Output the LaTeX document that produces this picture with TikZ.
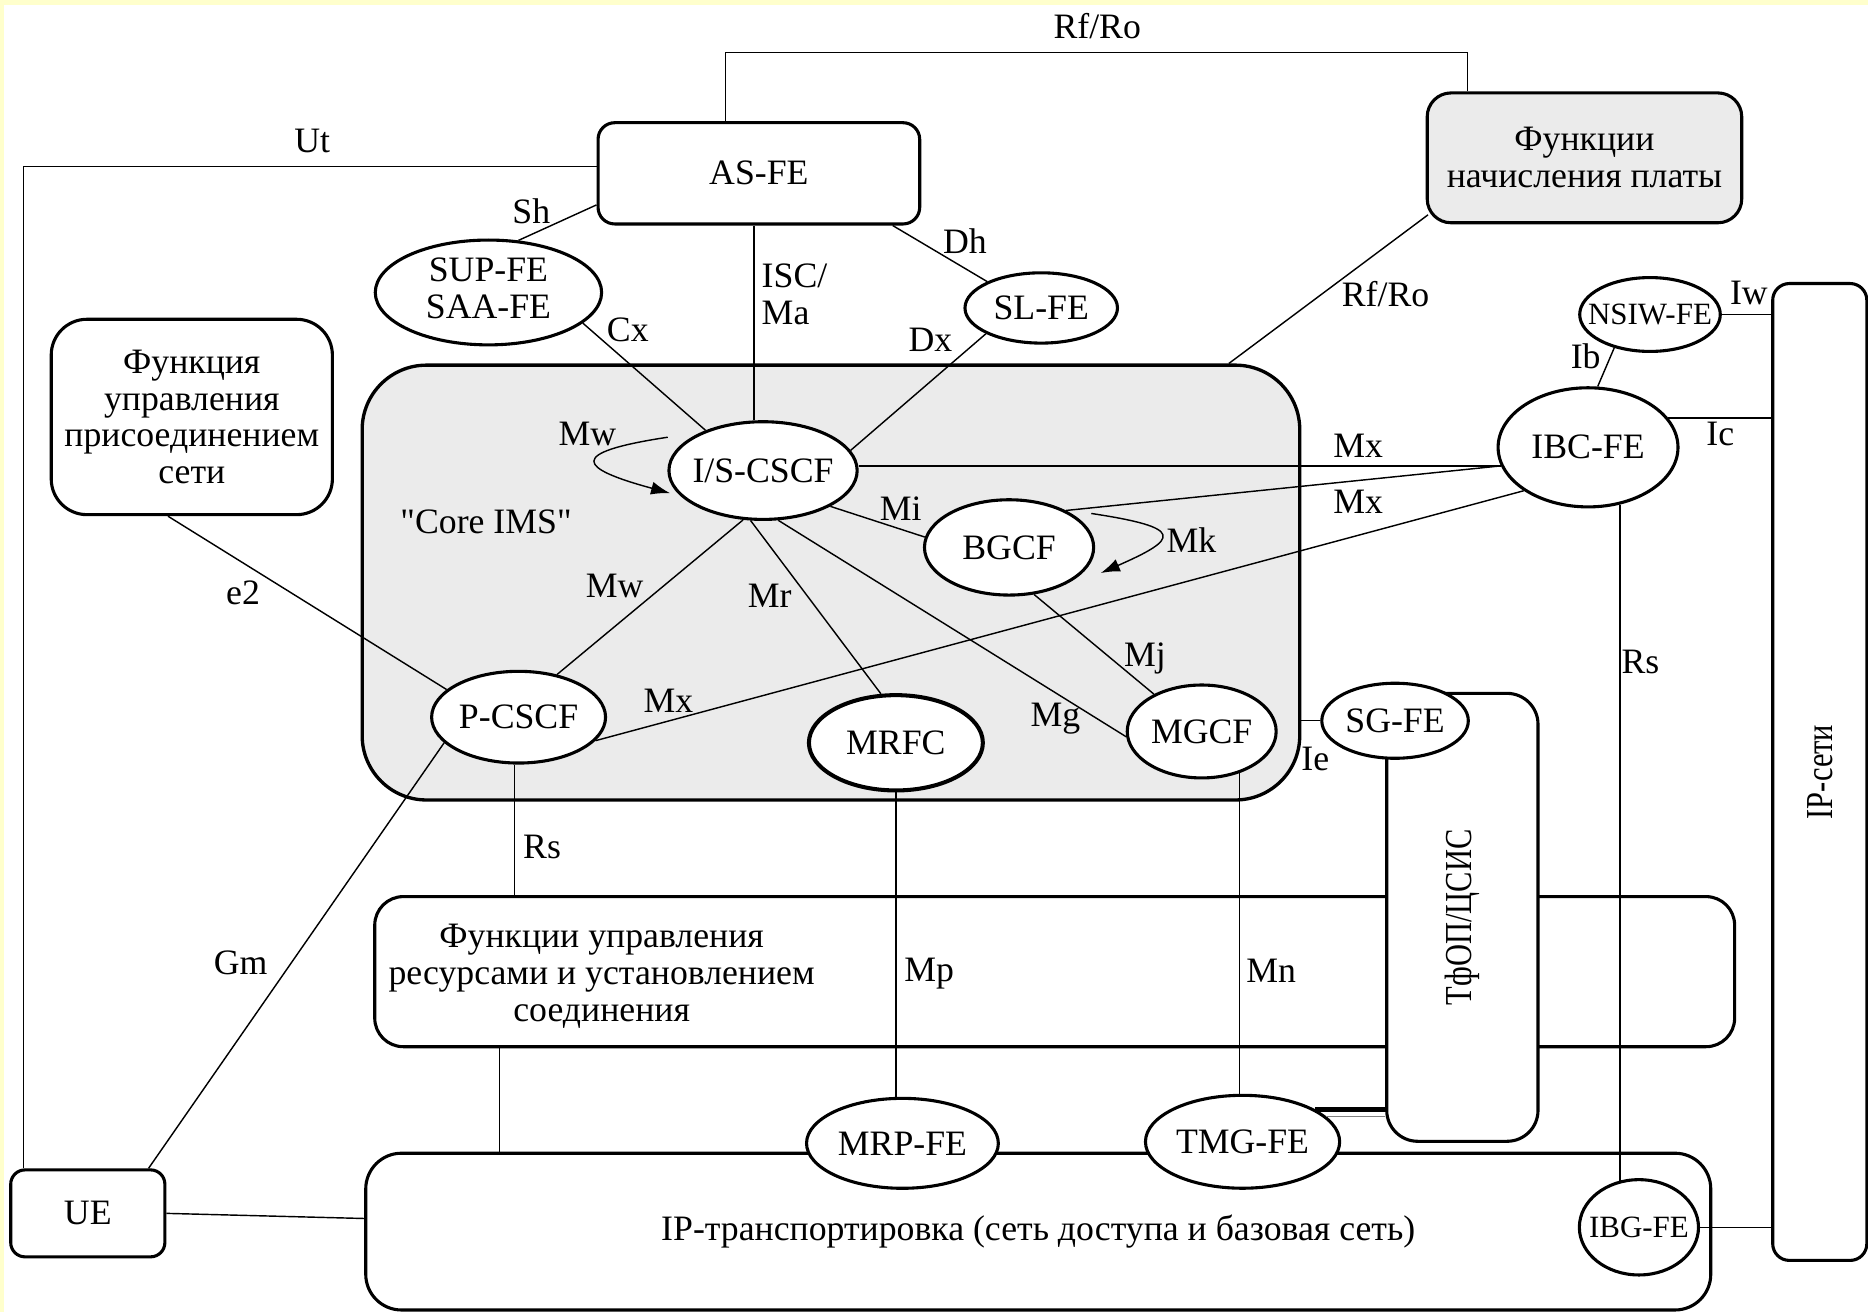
\documentclass[tikz,border=0pt]{standalone}
\usepackage{fontspec}
\usepackage{graphicx}
\setmainfont{Liberation Serif}[Ligatures=TeXOff]
\usetikzlibrary{shapes.geometric,arrows.meta}
\definecolor{paleyellow}{HTML}{FFFFCC}
\definecolor{coregray}{HTML}{EBEBEB}
\tikzset{
  box/.style={draw, rounded corners=7pt, line width=1.3pt, fill=white, inner sep=2pt, align=center},
  ell/.style={draw, ellipse, line width=1.3pt, fill=white, inner sep=0pt},
  link/.style={line width=0.6pt},
  lbl/.style={inner sep=1pt},
  selfloop/.style={line width=0.6pt, -{Latex[length=8pt,width=5.5pt]}}
}
\begin{document}
\begin{tikzpicture}[x=0.5pt,y=-0.5pt,font=\fontsize{15}{15.5}\selectfont]
\useasboundingbox (0,0) rectangle (1568,1101);
\fill[paleyellow] (0,0) rectangle (1568,1101);
\fill[white] (3,4.5) rectangle (1568,1101);

\node[box, fill=coregray, rounded corners=27pt, line width=1.4pt, minimum width=393.5pt, minimum height=182.5pt] (ims) at (697.5,489) {};
\node[box, minimum width=135pt, minimum height=42.5pt] (asfe) at (637,145.5) {AS-FE};
\node[box, fill=coregray, rounded corners=10pt, minimum width=132pt, minimum height=54.5pt] (charge) at (1330,132.5) {Функции\\начисления платы};
\node[box, rounded corners=15pt, minimum width=118pt, minimum height=82pt] (conn) at (161,350) {Функция\\управления\\присоединением\\сети};
\node[box, rounded corners=12pt, minimum width=570.75pt, minimum height=63pt] (res) at (885.3,815.6) {};
\node[align=center] (restext) at (505,819.5) {Функции управления\\ресурсами и установлением\\соединения};
\node[box, rounded corners=13pt, minimum width=63.5pt, minimum height=188pt] (pstn) at (1227.5,770) {\rotatebox{90}{\fontsize{16}{16}\selectfont\scalebox{0.8}[1]{ТфОП/ЦСИС}}};
\node[box, minimum width=39.5pt, minimum height=410pt] (ipnet) at (1527.5,648) {\rotatebox{90}{\fontsize{16}{16}\selectfont\scalebox{0.8}[1]{IP-сети}}};
\node[box, rounded corners=15pt, minimum width=564.5pt, minimum height=65.8pt] (iptr) at (871.5,1033.8) {IP-транспортировка (сеть доступа и базовая сеть)};
\node[box, rounded corners=6pt, minimum width=64.7pt, minimum height=36.5pt] (ue) at (73.7,1018.5) {UE};

\node[ell, minimum width=95pt, minimum height=44pt] (sup) at (410,245.5) {\makebox[0pt]{\begin{tabular}{@{}c@{}}SUP-FE\\SAA-FE\end{tabular}}};
\node[ell, minimum width=64pt, minimum height=29.5pt] (slfe) at (874,258.5) {\makebox[0pt]{SL-FE}};
\node[ell, minimum width=59pt, minimum height=31pt] (nsiw) at (1385,264) {\makebox[0pt]{\fontsize{13}{14}\selectfont NSIW-FE}};
\node[ell, minimum width=79pt, minimum height=41pt] (iscscf) at (640.5,395) {\makebox[0pt]{I/S-CSCF}};
\node[ell, minimum width=75.5pt, minimum height=50pt] (ibcfe) at (1333,375.5) {\makebox[0pt]{IBC-FE}};
\node[ell, minimum width=71pt, minimum height=40pt] (bgcf) at (847,459.5) {\makebox[0pt]{BGCF}};
\node[ell, minimum width=73pt, minimum height=38.5pt] (pcscf) at (435.3,602) {\makebox[0pt]{P-CSCF}};
\node[ell, line width=1.7pt, minimum width=73pt, minimum height=40pt] (mrfc) at (752,623.5) {\makebox[0pt]{MRFC}};
\node[ell, minimum width=62.5pt, minimum height=39pt] (mgcf) at (1008.7,614) {\makebox[0pt]{MGCF}};
\node[ell, minimum width=61.5pt, minimum height=31.5pt] (sgfe) at (1171,605) {\makebox[0pt]{SG-FE}};
\node[ell, minimum width=80.5pt, minimum height=37.75pt] (mrpfe) at (757.5,959.7) {\makebox[0pt]{MRP-FE}};
\node[ell, minimum width=81.5pt, minimum height=39pt] (tmgfe) at (1043,958.4) {\makebox[0pt]{TMG-FE}};
\node[ell, minimum width=50pt, minimum height=40pt] (ibgfe) at (1375.7,1030.2) {\makebox[0pt]{\fontsize{13}{14}\selectfont IBG-FE}};

\node (coreims) at (408,438) {"Core IMS"};
\node[lbl] (lRfTop) at (921,22) {Rf/Ro};
\node[lbl] (lUt) at (262,118) {Ut};
\node[lbl] (lSh) at (446,177) {Sh};
\node[lbl, align=left, anchor=west] (lIsc) at (637,247) {ISC/\\Ma};
\node[lbl] (lCx) at (527,277) {Cx};
\node[lbl] (lDh) at (810,202) {Dh};
\node[lbl] (lDx) at (781,285) {Dx};
\node[lbl] (lRfDiag) at (1163,247) {Rf/Ro};
\node[lbl] (lIw) at (1468,246) {Iw};
\node[lbl] (lIb) at (1331,299) {Ib};
\node[lbl] (lIc) at (1444,364) {Ic};
\node[lbl] (lMwLoop) at (493,364) {Mw};
\node[lbl] (lMw) at (516,492) {Mw};
\node[lbl] (lMr) at (646,500) {Mr};
\node[lbl] (lMi) at (756,427) {Mi};
\node[lbl] (lMxA) at (1140,374) {Mx};
\node[lbl] (lMxB) at (1140,421) {Mx};
\node[lbl] (lMk) at (1000,453) {Mk};
\node[lbl] (lMj) at (961,553) {Mj};
\node[lbl] (lMxC) at (561,588) {Mx};
\node[lbl] (lMg) at (886,603) {Mg};
\node[lbl] (lIe) at (1104,637) {Ie};
\node[lbl] (le2) at (204,498) {e2};
\node[lbl] (lGm) at (202,808) {Gm};
\node[lbl] (lRsP) at (455,711) {Rs};
\node[lbl] (lMp) at (780,817) {Mp};
\node[lbl] (lMn) at (1067,815) {Mn};
\node[lbl] (lRsI) at (1377,556) {Rs};

\draw[link] ([xshift=-14pt]asfe.north) -- ++(0,-57.4) -| ([xshift=-49pt]charge.north);
\draw[link] ([yshift=2.75pt]asfe.west) -| ([xshift=-27pt]ue.north);
\draw[link] ([yshift=-13.25pt]asfe.west) -- (sup.60);
\draw[link] ([xshift=-2pt]asfe.south) -- ([xshift=-2pt]asfe.south |- iscscf.north);
\draw[link] (sup.342) -- (iscscf.145);
\draw[link] ([xshift=-12pt]asfe.south east) -- (slfe.154);
\draw[link] (slfe.205) -- (iscscf.13);
\draw[link] ([shift={(1pt,4pt)}]charge.south west) -- ([xshift=167pt]ims.north);
\draw[link] (nsiw.east) -- (nsiw.east -| ipnet.west);
\draw[link] (nsiw.223) -- (ibcfe.81);
\draw[link] (ibcfe.20) -- (ibcfe.20 -| ipnet.west);
\draw[link] ([xshift=-10pt]conn.south) -- (pcscf.159);
\draw[selfloop] ([shift={(-40pt,14pt)}]iscscf.center) .. controls (475,380) and (485,393) .. ([shift={(-39pt,-9.5pt)}]iscscf.center);
\draw[link] (iscscf.248) -- (pcscf.48);
\draw[link] (iscscf.256) -- (mrfc.107);
\draw[link] (iscscf.287) -- (mgcf.184);
\draw[link] (iscscf.332) -- (bgcf.173);
\draw[link] (ibcfe.192) -- (ibcfe.192 -| iscscf.east);
\draw[link] (ibcfe.192) -- (bgcf.33);
\draw[link] (ibcfe.214) -- (pcscf.343);
\draw[selfloop] ([shift={(34.5pt,14.25pt)}]bgcf.center) .. controls (995,443) and (990,452) .. ([shift={(38.5pt,-10.75pt)}]bgcf.center);
\draw[link] (bgcf.298) -- (mgcf.142);
\draw[link] (sgfe.west) -- (sgfe.west -| ims.east);
\draw[link] (pcscf.199) -- ([xshift=-7.5pt]ue.north east);
\draw[link] ([xshift=-1.75pt]pcscf.south) -- ([xshift=-1.75pt]pcscf.south |- res.north);
\draw[link] ([xshift=-233pt]res.south) -- ([xshift=-233pt]res.south |- iptr.north);
\draw[link] (mrfc.south) -- (mrfc.south |- mrpfe.north);
\draw[link] (mgcf.312) -- (mgcf.312 |- tmgfe.north);
\draw[line width=2.2pt] (tmgfe.24) -- (tmgfe.24 -| pstn.west);
\draw[link, gray] (tmgfe.17) -- (tmgfe.17 -| pstn.west);
\draw[link] (ibcfe.299) -- (ibcfe.299 |- ibgfe.114);
\draw[link] (ue.east) -- ([yshift=5.5pt]iptr.west);
\draw[link] (ibgfe.east) -- (ibgfe.east -| ipnet.west);
\end{tikzpicture}
\end{document}
